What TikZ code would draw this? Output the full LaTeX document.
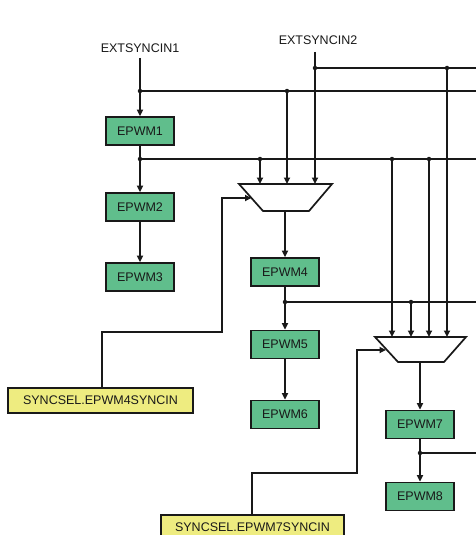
\documentclass[tikz,border=0pt]{standalone}
\usepackage{fontspec}
\setmainfont{Liberation Sans}
\usetikzlibrary{arrows.meta}
\definecolor{boxgreen}{RGB}{96,190,140}
\definecolor{boxyellow}{RGB}{238,236,128}
\definecolor{ln}{RGB}{25,25,25}
\tikzset{
  pwm/.style={draw=ln, line width=1.7pt, fill=boxgreen, minimum width=68pt, minimum height=28pt, inner sep=0pt, font=\fontsize{12.5}{14}\selectfont, text=black!90},
  selbox/.style={draw=ln, line width=1.7pt, fill=boxyellow, minimum height=25pt, inner sep=0pt, font=\fontsize{12.5}{14}\selectfont, text=black!90},
  lbl/.style={inner sep=0pt, font=\fontsize{12.5}{14}\selectfont, text=black!90},
  wire/.style={draw=ln, line width=1.8pt},
  arr/.style={wire, -{Triangle[length=6.5pt,width=6pt]}},
  jdot/.style={circle, fill=ln, inner sep=0pt, minimum size=4.5pt},
  muxshape/.style={draw=ln, line width=1.7pt, fill=white}
}
\begin{document}
\begin{tikzpicture}[x=1pt,y=-1pt]
\clip (0,0) rectangle (476,535);
\fill[white] (0,0) rectangle (476,535);

% labels
\node[lbl] (ext1) at (140,48) {EXTSYNCIN1};
\node[lbl] (ext2) at (318,40) {EXTSYNCIN2};

% boxes
\node[pwm] (p1) at (140,131) {EPWM1};
\node[pwm] (p2) at (140,207) {EPWM2};
\node[pwm] (p3) at (140,277) {EPWM3};
\node[pwm] (p4) at (285,272) {EPWM4};
\node[pwm] (p5) at (285,344.5) {EPWM5};
\node[pwm] (p6) at (285,414.5) {EPWM6};
\node[pwm] (p7) at (420,424.5) {EPWM7};
\node[pwm] (p8) at (420,496.5) {EPWM8};
\node[selbox, minimum width=185pt] (s4) at (100.5,400.5) {SYNCSEL.EPWM4SYNCIN};
\node[selbox, minimum width=183pt] (s7) at (252.5,527.5) {SYNCSEL.EPWM7SYNCIN};

% muxes
\draw[muxshape] (239,184) -- (332,184) -- (309,211) -- (263,211) -- cycle;
\draw[muxshape] (375,337) -- (466,337) -- (444,362) -- (398,362) -- cycle;
\coordinate (m1out) at (285,211);
\coordinate (m2out) at (420,362);
\coordinate (m1sel) at (251.5,198);
\coordinate (m2sel) at (386,350);

% junction coordinates
\coordinate (e1s) at (140,58);
\coordinate (e2s) at (315,52);
\coordinate (j1) at (140,91);
\coordinate (j2) at (315,68);
\coordinate (j3) at (447,68);
\coordinate (j4) at (287,91);
\coordinate (j5) at (140,159);
\coordinate (j6) at (260,159);
\coordinate (j7) at (392,159);
\coordinate (j8) at (429,159);
\coordinate (j9) at (285,302);
\coordinate (j10) at (411,302);
\coordinate (j11) at (420,453);

% right edge ends
\coordinate (r68) at (476,68);
\coordinate (r91) at (476,91);
\coordinate (r159) at (476,159);
\coordinate (r302) at (476,302);
\coordinate (r453) at (476,453);

% horizontal buses
\draw[wire] (j2) -- (r68);
\draw[wire] (j1) -- (r91);
\draw[wire] (j5) -- (r159);
\draw[wire] (j9) -- (r302);
\draw[wire] (j11) -- (r453);

% verticals
\draw[arr] (e1s) -- (p1.north);
\draw[arr] (e2s) -- (315,184);
\draw[arr] (j4) -- (287,184);
\draw[arr] (j6) -- (260,184);
\draw[arr] (p1.south) -- (p2.north);
\draw[arr] (p2.south) -- (p3.north);
\draw[arr] (m1out) -- (p4.north);
\draw[arr] (p4.south) -- (p5.north);
\draw[arr] (p5.south) -- (p6.north);
\draw[arr] (j7) -- (392,337);
\draw[arr] (j10) -- (411,337);
\draw[arr] (j8) -- (429,337);
\draw[arr] (j3) -- (447,337);
\draw[arr] (m2out) -- (p7.north);
\draw[arr] (p7.south) -- (p8.north);

% select lines
\draw[arr] (s4.north -| 102,0) -- (102,332) -- (222,332) -- (222,198) -- (m1sel);
\draw[arr] (s7.north -| 252,0) -- (252,473) -- (357,473) -- (357,350) -- (m2sel);

% dots
\foreach \j in {j1,j2,j3,j4,j5,j6,j7,j8,j9,j10,j11}
  \node[jdot] at (\j) {};
\end{tikzpicture}
\end{document}
